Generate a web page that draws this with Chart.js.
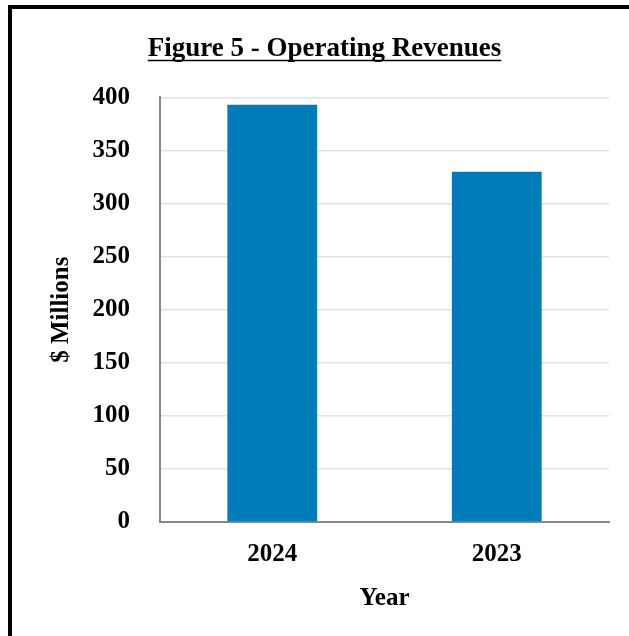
<!DOCTYPE html>
<html>
<head>
<meta charset="utf-8">
<script src="https://cdn.jsdelivr.net/npm/chart.js@4/dist/chart.umd.min.js"></script>
<style>
    html, body { margin: 0; padding: 0; background: #fff; }
    #wrap { position: relative; width: 629px; height: 636px; overflow: hidden; }
    #frame {
        position: absolute; left: 8px; top: 5px; right: 0; bottom: 0;
        border-left: 4px solid #000; border-top: 4px solid #000;
        pointer-events: none;
    }
    #chart { position: absolute; left: 0; top: 0; }
</style>
</head>
<body>
<div id="wrap">
    <canvas id="chart" width="629" height="636"></canvas>
    <div id="frame"></div>
</div>
<script>
// Données du graphique
const years = ['2024', '2023'];
const revenues = [393, 330];
const yTicks = [0, 50, 100, 150, 200, 250, 300, 350, 400];

const serif = "'Liberation Serif', 'Times New Roman', serif";

// Souligne le titre comme dans le rapport
const underlineTitle = {
    id: 'underlineTitle',
    afterDraw(chart) {
        const box = chart.titleBlock;
        if (!box) return;
        const ctx = chart.ctx;
        const opts = chart.options.plugins.title;
        ctx.save();
        ctx.font = `bold ${opts.font.size}px ${serif}`;
        const w = ctx.measureText(opts.text).width;
        const cx = (box.left + box.right) / 2;
        const y = box.top + opts.padding.top + opts.font.size * 1.2 / 2 + opts.font.size * 0.42;
        ctx.strokeStyle = '#000';
        ctx.lineWidth = 1.5;
        ctx.beginPath();
        ctx.moveTo(cx - w / 2, y);
        ctx.lineTo(cx + w / 2, y);
        ctx.stroke();
        ctx.restore();
    }
};

const ctx = document.getElementById('chart').getContext('2d');
new Chart(ctx, {
    type: 'bar',
    data: {
        labels: years,
        datasets: [{
            data: revenues,
            backgroundColor: '#017cba',
            barPercentage: 0.4,
            categoryPercentage: 1.0
        }]
    },
    options: {
        responsive: false,
        animation: false,
        layout: { padding: { left: 40, right: 20, top: 0, bottom: 22 } },
        plugins: {
            legend: { display: false },
            tooltip: { enabled: false },
            title: {
                display: true,
                text: 'Figure 5 - Operating Revenues',
                color: '#000',
                font: { family: serif, size: 27, weight: 'bold' },
                padding: { top: 33, bottom: 32 }
            }
        },
        scales: {
            x: {
                afterFit(scale) { scale.height = 92; },
                grid: { display: false, drawTicks: false },
                border: { color: '#888', width: 2 },
                ticks: {
                    color: '#000',
                    padding: 18,
                    font: { family: serif, size: 25, weight: 'bold' }
                },
                title: {
                    display: true,
                    text: 'Year',
                    color: '#000',
                    font: { family: serif, size: 25, weight: 'bold' },
                    padding: { top: 0, bottom: 0 }
                }
            },
            y: {
                min: yTicks[0],
                max: yTicks[yTicks.length - 1],
                afterBuildTicks(axis) {
                    axis.ticks = yTicks.map(v => ({ value: v }));
                },
                afterFit(scale) { scale.width = 120; },
                grid: { color: '#e3e3e3', lineWidth: 1.5, drawTicks: false },
                border: { color: '#888', width: 2 },
                ticks: {
                    color: '#000',
                    padding: 30,
                    font: { family: serif, size: 25, weight: 'bold' }
                },
                title: {
                    display: true,
                    text: '$ Millions',
                    color: '#000',
                    font: { family: serif, size: 25, weight: 'bold' },
                    padding: { top: 7, bottom: 0 }
                }
            }
        }
    },
    plugins: [underlineTitle]
});
</script>
</body>
</html>
